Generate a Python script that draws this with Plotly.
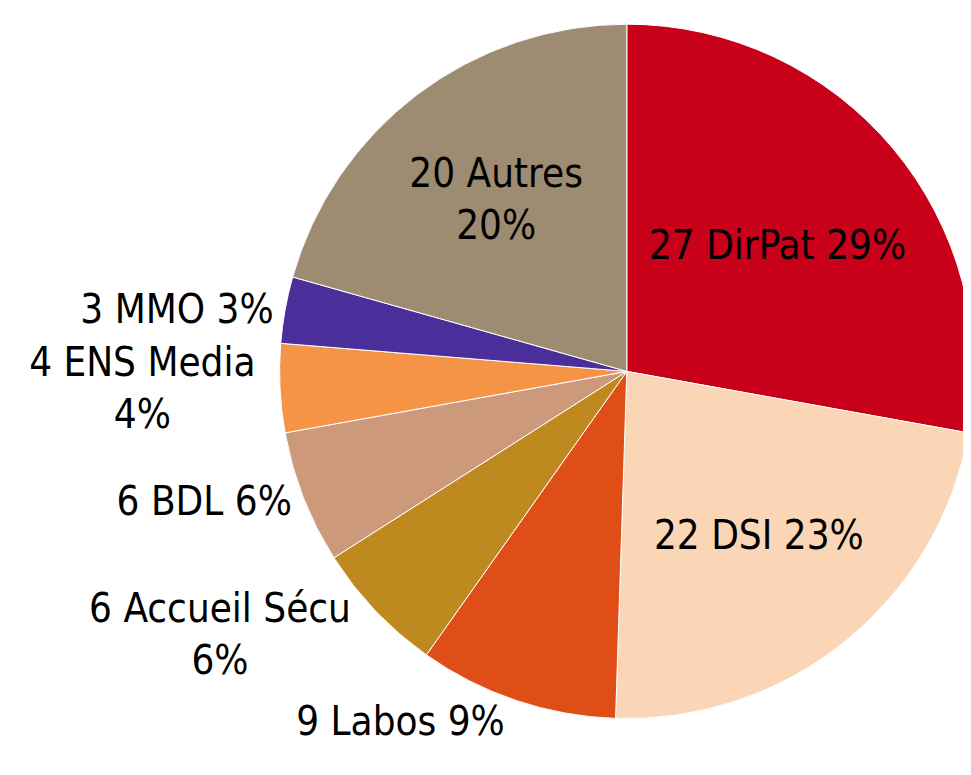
import plotly.graph_objects as go

# donnees du camembert (sens horaire depuis midi)
services = ["DirPat", "DSI", "Labos", "Accueil Sécu", "BDL", "ENS Media", "MMO", "Autres"]
effectifs = [27, 22, 9, 6, 6, 4, 3, 20]
pourcents = [29, 23, 9, 6, 6, 4, 3, 20]
etiquettes = ["27 DirPat 29%", "22 DSI 23%", "9 Labos 9%", "6 Accueil Sécu<br>6%",
              "6 BDL 6%", "4 ENS Media<br>4%", "3 MMO 3%", "20 Autres<br>20%"]
couleurs = ["#C8001A", "#FAD5B6", "#E04E18", "#BE8A20", "#CC9A7A", "#F59446", "#4A2F9A", "#9E8C72"]
positions = ["inside", "inside", "outside", "outside", "outside", "outside", "outside", "inside"]

fig = go.Figure(go.Pie(
    labels=services,
    values=effectifs,
    text=etiquettes,
    textinfo="text",
    textposition=positions,
    insidetextorientation="horizontal",
    sort=False,
    direction="clockwise",
    rotation=0,
    marker=dict(colors=couleurs, line=dict(color="white", width=1)),
    textfont=dict(family="DejaVu Sans Condensed", size=40, color="black"),
    domain=dict(x=[273/971, 1], y=[1-716/775, 1-0/775]),
    showlegend=False,
    hoverinfo="label+value",
))
fig.update_layout(
    width=971, height=775,
    margin=dict(l=0, r=0, t=0, b=0),
    paper_bgcolor="white",
    uniformtext=dict(minsize=40, mode="show"),
)
fig.write_html("out.html")
